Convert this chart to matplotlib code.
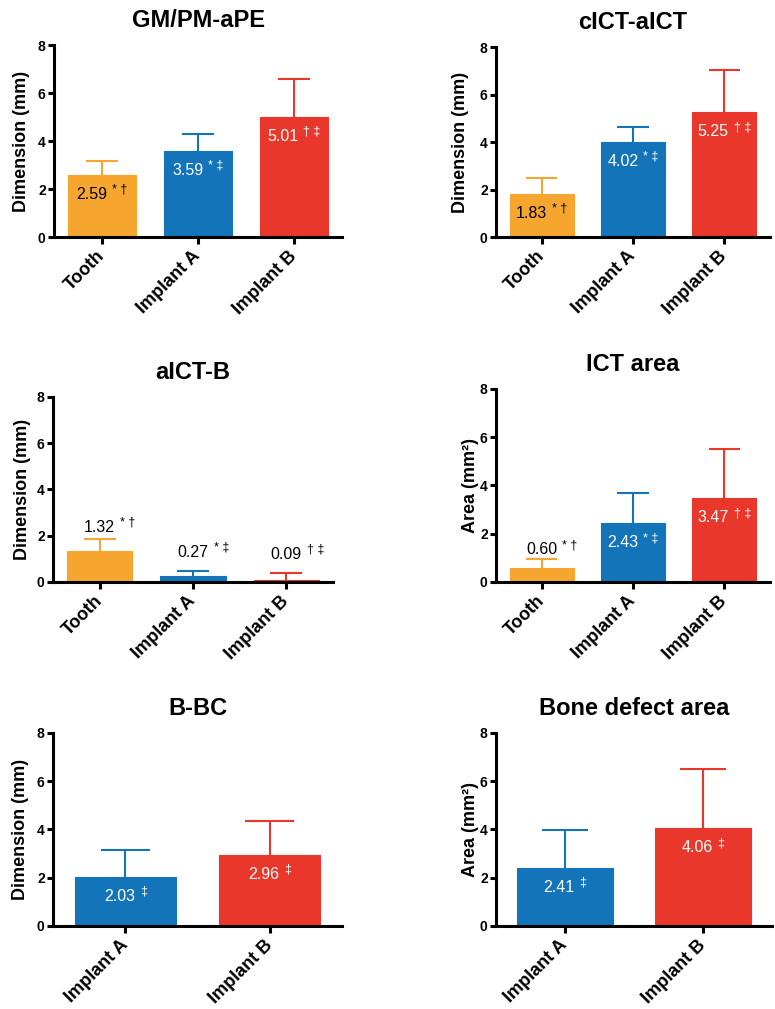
import matplotlib
matplotlib.use("Agg")
import matplotlib.pyplot as plt

plt.rcParams['font.family'] = ['Liberation Sans', 'DejaVu Sans']

# ---------------- data ----------------
cats3 = ['Tooth', 'Implant A', 'Implant B']
cats2 = ['Implant A', 'Implant B']

gm_mean = [2.59, 3.59, 5.01]
gm_sd = [0.58, 0.70, 1.59]
gm_sig = ['* †', '* ‡', '† ‡']

cict_mean = [1.83, 4.02, 5.25]
cict_sd = [0.67, 0.61, 1.78]
cict_sig = ['* †', '* ‡', '† ‡']

aictb_mean = [1.32, 0.27, 0.09]
aictb_sd = [0.54, 0.22, 0.31]
aictb_sig = ['* †', '* ‡', '† ‡']

ict_mean = [0.60, 2.43, 3.47]
ict_sd = [0.35, 1.24, 2.06]
ict_sig = ['* †', '* ‡', '† ‡']

bbc_mean = [2.03, 2.96]
bbc_sd = [1.12, 1.40]
bbc_sig = ['‡', '‡']

bda_mean = [2.41, 4.06]
bda_sd = [1.56, 2.45]
bda_sig = ['‡', '‡']

yticks = [0, 2, 4, 6, 8]

# ---------------- style ----------------
ORANGE = '#F6A62F'
BLUE = '#1374BA'
RED = '#E9382B'
col3 = [ORANGE, BLUE, RED]
col2 = [BLUE, RED]

panels = [
    dict(rect=[0.0697, 0.7651, 0.3716, 0.1903], title='GM/PM-aPE', ylabel='Dimension (mm)', lp=6,
         cats=cats3, mean=gm_mean, sd=gm_sd, sig=gm_sig, colors=col3,
         modes=['in', 'in', 'in'], lcol=['black', 'white', 'white']),
    dict(rect=[0.6400, 0.7651, 0.3535, 0.1883], title='cICT-aICT', ylabel='Dimension (mm)', lp=8,
         cats=cats3, mean=cict_mean, sd=cict_sd, sig=cict_sig, colors=col3,
         modes=['in', 'in', 'in'], lcol=['black', 'white', 'white']),
    dict(rect=[0.0684, 0.4232, 0.3613, 0.1834], title='aICT-B', ylabel='Dimension (mm)', lp=4,
         cats=cats3, mean=aictb_mean, sd=aictb_sd, sig=aictb_sig, colors=col3,
         modes=['above7', 'above14', 'above14'], lcol=['black', 'black', 'black']),
    dict(rect=[0.6400, 0.4232, 0.3535, 0.1913], title='ICT area', ylabel='Area (mm²)', lp=1,
         cats=cats3, mean=ict_mean, sd=ict_sd, sig=ict_sig, colors=col3,
         modes=['above5', 'in', 'in'], lcol=['black', 'white', 'white']),
    dict(rect=[0.0684, 0.0823, 0.3729, 0.1913], title='B-BC', ylabel='Dimension (mm)', lp=6,
         cats=cats2, mean=bbc_mean, sd=bbc_sd, sig=bbc_sig, colors=col2,
         modes=['in', 'in'], lcol=['white', 'white']),
    dict(rect=[0.6400, 0.0823, 0.3561, 0.1913], title='Bone defect area', ylabel='Area (mm²)', lp=1,
         cats=cats2, mean=bda_mean, sd=bda_sd, sig=bda_sig, colors=col2,
         modes=['in', 'in'], lcol=['white', 'white']),
]

fig = plt.figure(figsize=(7.75, 10.09), dpi=100)

label_pairs = []
SUP_RISE = 6

for p in panels:
    ax = fig.add_axes(p['rect'])
    n = len(p['cats'])
    xs = list(range(n))
    ax.bar(xs, p['mean'], width=0.7, color=p['colors'], edgecolor=p['colors'],
           linewidth=0.8, zorder=2)
    for x, m, s, c in zip(xs, p['mean'], p['sd'], p['colors']):
        ax.plot([x, x], [m, m + s], color=c, lw=1.5, zorder=1, solid_capstyle='butt')
        ax.plot([x - 0.17, x + 0.17], [m + s, m + s], color=c, lw=1.5, zorder=1,
                solid_capstyle='butt')
    ax.set_xlim(-0.5, n - 0.5)
    ax.set_ylim(0, 8)
    ax.set_yticks(yticks)
    ax.set_yticklabels([str(t) for t in yticks], fontsize=10, fontweight='bold')
    ax.set_xticks(xs)
    ax.set_xticklabels(p['cats'], rotation=45, ha='right', va='center',
                       rotation_mode='anchor', fontsize=13, fontweight='bold')
    for sp in ['top', 'right']:
        ax.spines[sp].set_visible(False)
    for sp in ['left', 'bottom']:
        ax.spines[sp].set_linewidth(2.2)
    ax.tick_params(axis='y', direction='out', width=2.2, length=4.5, pad=1.5)
    ax.tick_params(axis='x', direction='out', width=2.2, length=5, pad=7)
    ax.set_title(p['title'], fontsize=17, fontweight='bold', pad=13)
    ax.set_ylabel(p['ylabel'], fontsize=13, fontweight='bold', labelpad=p['lp'])

    for x, m, s, sig, mode, lc in zip(xs, p['mean'], p['sd'], p['sig'], p['modes'], p['lcol']):
        if mode == 'in':
            y = m
            dy = -24
        else:
            y = m + s
            dy = int(mode[5:])
        t1 = ax.annotate(f"{m:.2f}", xy=(x, y), xycoords='data', xytext=(0, dy),
                         textcoords='offset pixels', ha='left', va='baseline',
                         fontsize=11.5, color=lc, zorder=5)
        t2 = ax.annotate(sig, xy=(x, y), xycoords='data', xytext=(0, dy + SUP_RISE),
                         textcoords='offset pixels', ha='left', va='baseline',
                         fontsize=9, color=lc, zorder=5)
        label_pairs.append((t1, t2, mode, dy))

fig.canvas.draw()
renderer = fig.canvas.get_renderer()
gap = 5
for t1, t2, mode, dy in label_pairs:
    w1 = t1.get_window_extent(renderer).width
    w2 = t2.get_window_extent(renderer).width
    if mode == 'in':
        start = -(w1 + gap + w2) / 2
    else:
        start = -w1 / 2
    t1.xyann = (start, dy)
    t2.xyann = (start + w1 + gap, dy + SUP_RISE)

fig.savefig('out.png', dpi=100)
